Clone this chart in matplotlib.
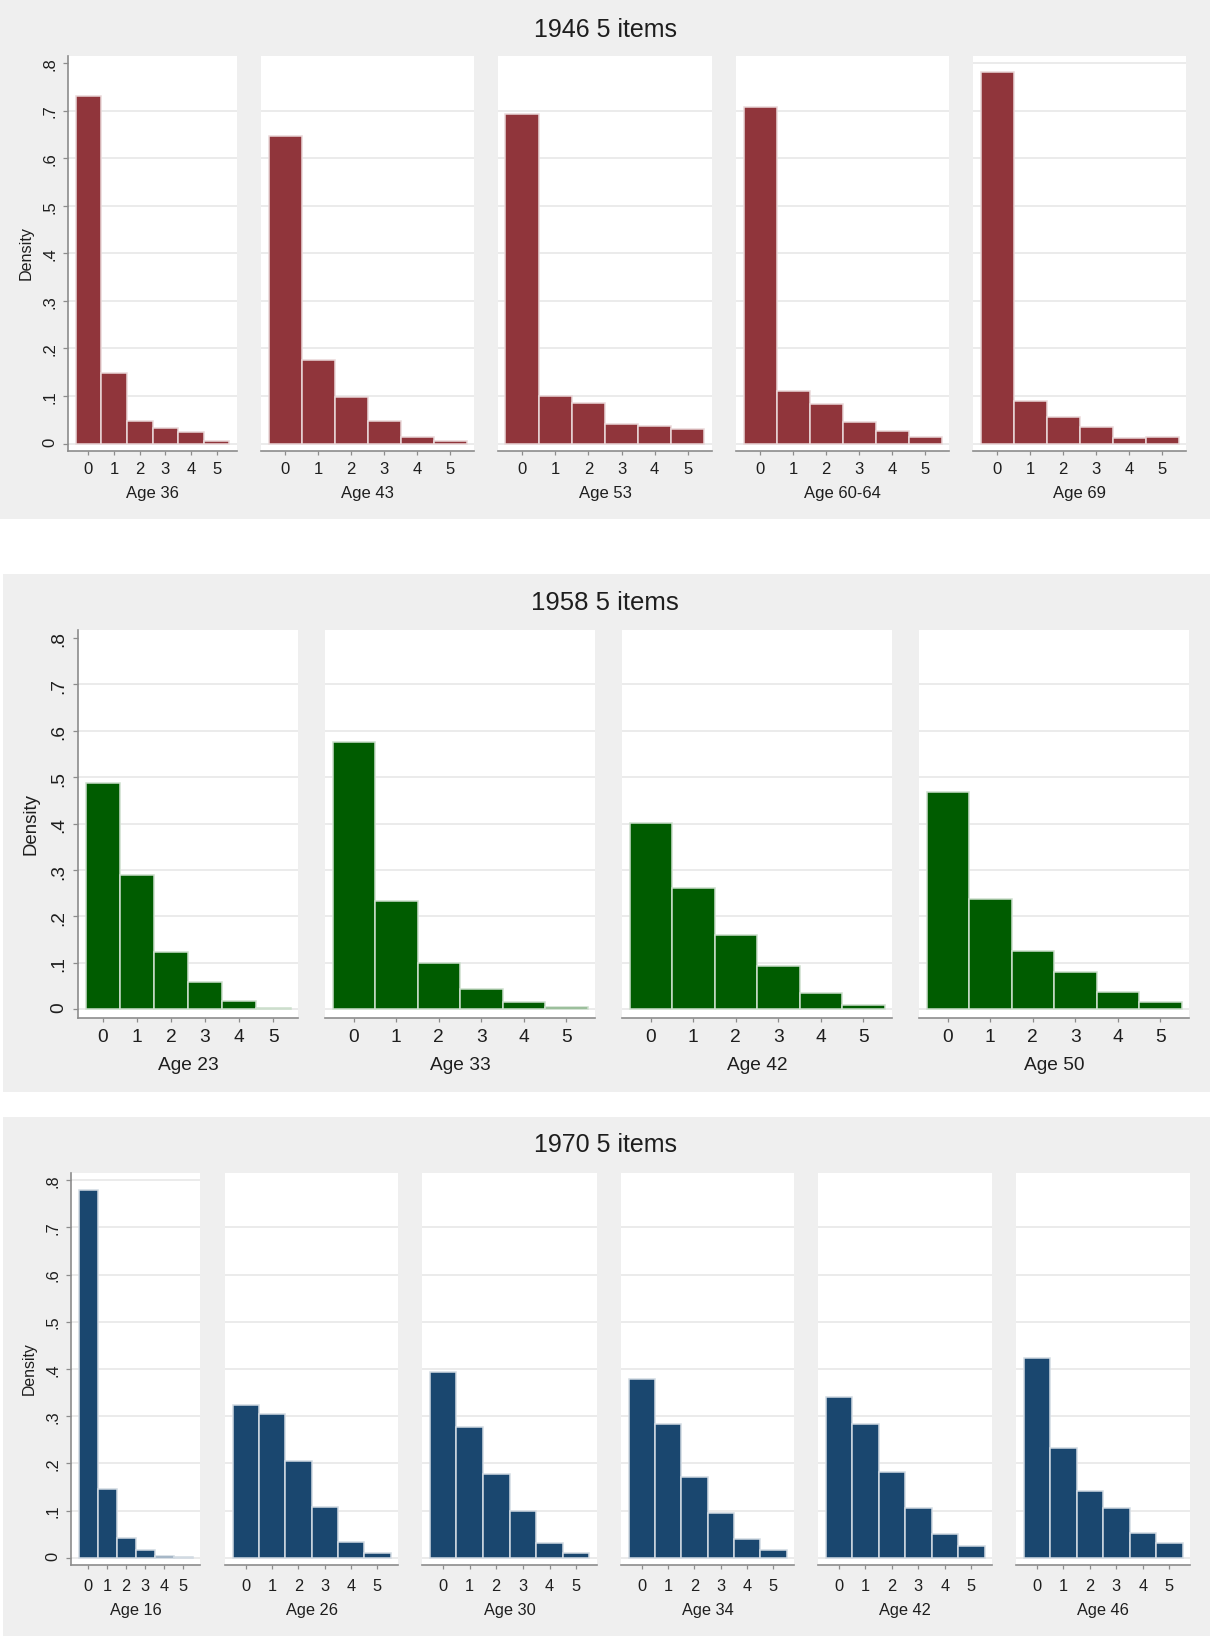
import numpy as np
import matplotlib.pyplot as plt
from matplotlib.patches import Rectangle
from matplotlib.colors import to_rgb

plt.rcParams['font.family'] = ['Liberation Sans', 'DejaVu Sans']

# number of items endorsed (0-5)
scores = [0, 1, 2, 3, 4, 5]
ytick_vals = [0, 0.1, 0.2, 0.3, 0.4, 0.5, 0.6, 0.7, 0.8]
ytick_text = ['0', '.1', '.2', '.3', '.4', '.5', '.6', '.7', '.8']

# 1946 cohort
ages_1946 = ['Age 36', 'Age 43', 'Age 53', 'Age 60-64', 'Age 69']
age36_1946 = [0.730, 0.149, 0.048, 0.033, 0.024, 0.005]
age43_1946 = [0.647, 0.175, 0.099, 0.047, 0.014, 0.006]
age53_1946 = [0.694, 0.101, 0.085, 0.041, 0.036, 0.030]
age60_1946 = [0.708, 0.111, 0.084, 0.045, 0.026, 0.014]
age69_1946 = [0.781, 0.090, 0.056, 0.034, 0.012, 0.014]

# 1958 cohort
ages_1958 = ['Age 23', 'Age 33', 'Age 42', 'Age 50']
age23_1958 = [0.488, 0.290, 0.124, 0.058, 0.017, 0.004]
age33_1958 = [0.575, 0.233, 0.099, 0.043, 0.016, 0.006]
age42_1958 = [0.402, 0.261, 0.161, 0.094, 0.035, 0.010]
age50_1958 = [0.469, 0.237, 0.126, 0.081, 0.038, 0.016]

# 1970 cohort
ages_1970 = ['Age 16', 'Age 26', 'Age 30', 'Age 34', 'Age 42', 'Age 46']
age16_1970 = [0.779, 0.146, 0.042, 0.017, 0.003, 0.001]
age26_1970 = [0.324, 0.304, 0.205, 0.108, 0.034, 0.010]
age30_1970 = [0.394, 0.277, 0.177, 0.098, 0.031, 0.010]
age34_1970 = [0.379, 0.284, 0.172, 0.095, 0.039, 0.017]
age42_1970 = [0.341, 0.283, 0.182, 0.106, 0.050, 0.025]
age46_1970 = [0.424, 0.233, 0.141, 0.105, 0.052, 0.031]

W, H = 1212, 1636
fig = plt.figure(figsize=(W / 100, H / 100), dpi=100)
fig.patch.set_facecolor('white')

BG = '#efefef'
AXIS = '#8c8c8c'
GRID = '#e9e9e9'
TEXT = '#1e1e1e'

# pixel layout of each cohort block
rows = [
    dict(title='1946 5 items', color='#90353b', ages=ages_1946,
         data=[age36_1946, age43_1946, age53_1946, age60_1946, age69_1946],
         panel=(0, 1210, 0, 519), title_y=30,
         spans=[(68, 237), (261, 474), (498, 712), (736, 949), (973, 1186)],
         top=56, bottom=451, ylim=(-0.0156, 0.815), xpad=5,
         fs=12, title_fs=18, label_y=494, dens_x=26, dens_y=253),
    dict(title='1958 5 items', color='#005c00', ages=ages_1958,
         data=[age23_1958, age33_1958, age42_1958, age50_1958],
         panel=(3, 1210, 574, 1092), title_y=603,
         spans=[(78, 298), (325, 595), (622, 892), (919, 1189)],
         top=630, bottom=1018, ylim=(-0.0186, 0.817), xpad=5.2,
         fs=13.8, title_fs=18.5, label_y=1065, dens_x=31, dens_y=824),
    dict(title='1970 5 items', color='#1a476f', ages=ages_1970,
         data=[age16_1970, age26_1970, age30_1970, age34_1970, age42_1970, age46_1970],
         panel=(3, 1210, 1117, 1636), title_y=1145,
         spans=[(71, 200), (225, 398), (422, 597), (621, 794), (818, 992), (1016, 1190)],
         top=1173, bottom=1565, ylim=(-0.0155, 0.8155), xpad=7.3,
         fs=11.8, title_fs=18, label_y=1611, dens_x=29, dens_y=1369),
]


def lighten(c, amount):
    r, g, b = to_rgb(c)
    return (r + (1 - r) * amount, g + (1 - g) * amount, b + (1 - b) * amount)


for row in rows:
    px0, px1, py0, py1 = row['panel']
    fig.patches.append(Rectangle((px0 / W, 1 - py1 / H), (px1 - px0) / W, (py1 - py0) / H,
                                 transform=fig.transFigure, facecolor=BG,
                                 edgecolor='none', zorder=-10))
    fig.text(605 / W, 1 - row['title_y'] / H, row['title'], ha='center', va='center',
             fontsize=row['title_fs'], color=TEXT)
    fig.text(row['dens_x'] / W, 1 - row['dens_y'] / H, 'Density', rotation=90,
             ha='center', va='center', fontsize=row['fs'] * 0.97, color=TEXT)

    edge = lighten(row['color'], 0.8)
    for i, (x0, x1) in enumerate(row['spans']):
        vals = row['data'][i]
        ax = fig.add_axes([x0 / W, 1 - row['bottom'] / H, (x1 - x0) / W,
                           (row['bottom'] - row['top']) / H])
        ax.set_facecolor('white')

        # keep ~7.5 px between the outer bars and the plot edge
        ppu = (x1 - x0 - 15) / 6.0
        pad = 7.5 / ppu
        ax.set_xlim(-0.5 - pad, 5.5 + pad)
        ax.set_ylim(*row['ylim'])

        grid_vals = ytick_vals[:-1]
        if max(vals) >= 0.75:
            grid_vals = ytick_vals
        for g in grid_vals:
            ax.axhline(g, color=GRID, lw=1.3, zorder=1)

        ax.bar(scores, vals, width=1.0, color=row['color'], edgecolor=edge,
               linewidth=1.1, zorder=3)

        for s in ['top', 'right']:
            ax.spines[s].set_visible(False)
        ax.spines['bottom'].set_color(AXIS)
        ax.spines['bottom'].set_linewidth(1.2)
        ax.set_xticks(scores)
        ax.set_xticklabels([str(s) for s in scores])
        ax.tick_params(axis='x', length=3, width=0.9, color=AXIS, labelsize=row['fs'],
                       labelcolor=TEXT, pad=row['xpad'])

        ax.set_yticks(ytick_vals)
        if i == 0:
            ax.spines['left'].set_color(AXIS)
            ax.spines['left'].set_linewidth(1.2)
            ax.set_yticklabels(ytick_text)
            ax.tick_params(axis='y', length=3.5, width=0.9, color=AXIS,
                           labelsize=row['fs'], labelcolor=TEXT, labelrotation=90, pad=4)
        else:
            ax.spines['left'].set_visible(False)
            ax.tick_params(axis='y', left=False, labelleft=False)

        fig.text((x0 + x1) / 2 / W, 1 - row['label_y'] / H, row['ages'][i],
                 ha='center', va='center', fontsize=row['fs'], color=TEXT)

fig.savefig('out.png', dpi=100, facecolor='white')
